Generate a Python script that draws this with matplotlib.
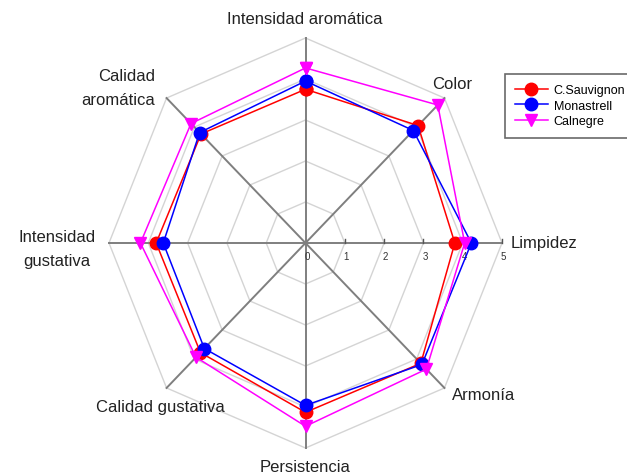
import numpy as np
import matplotlib.pyplot as plt

plt.rcParams['font.family'] = ['Liberation Sans', 'DejaVu Sans']

# axes, clockwise from the top
atributos = ["Intensidad aromática", "Color", "Limpidez", "Armonía",
             "Persistencia", "Calidad gustativa", "Intensidad\ngustativa",
             "Calidad\naromática"]
sauvignon = [3.75, 4.05, 3.8, 4.15, 4.13, 3.78, 3.8, 3.76]
monastrell = [3.95, 3.88, 4.22, 4.19, 3.96, 3.64, 3.62, 3.81]
calnegre = [4.27, 4.76, 4.05, 4.35, 4.47, 3.94, 4.2, 4.12]
escala = [0, 1, 2, 3, 4, 5]

ang = np.pi / 2 - np.arange(len(atributos)) * 2 * np.pi / len(atributos)

fig = plt.figure(figsize=(6.27, 4.77), dpi=100)
ax = fig.add_axes([0, 0, 1, 1])
ux, uy = 39.3, 41.0
cx, cy = 305.5, 477 - 244
ax.set_xlim(-cx / ux, (627 - cx) / ux)
ax.set_ylim(-cy / uy, (477 - cy) / uy)
ax.axis("off")

# octagon grid
a_cerr = np.append(ang, ang[0])
for r in escala[1:]:
    ax.plot(r * np.cos(a_cerr), r * np.sin(a_cerr), color="#d4d4d4", lw=1, zorder=1)

# spokes
for a in ang[:4]:
    ax.plot([-5 * np.cos(a), 5 * np.cos(a)], [-5 * np.sin(a), 5 * np.sin(a)],
            color="#7f7f7f", lw=1.4, zorder=2)

# scale on the Limpidez axis
for v in escala:
    if v > 0:
        ax.plot([v, v], [0, 0.1], color="#555555", lw=1, zorder=2)
    ax.text(v + 0.04, -0.2, str(v), fontsize=7, ha="center", va="top", color="#333333")

series = [("C.Sauvignon", sauvignon, "red", "o"),
          ("Monastrell", monastrell, "blue", "o"),
          ("Calnegre", calnegre, "magenta", "v")]
for i, (nombre, vals, col, mk) in enumerate(series):
    v = np.append(vals, vals[0])
    ax.plot(v * np.cos(a_cerr), v * np.sin(a_cerr), color=col, lw=1.1,
            marker=mk, markersize=9, label=nombre, zorder=3 + i)

# axis labels (pixel positions)
etiquetas = [(305, 20, "center"), (452, 85, "center"), (511, 244, "left"),
             (452, 396, "left"), (305, 468, "center"), (160, 408, "center"),
             (57, 250, "center"), (155, 89, "right")]
for (px, py, ha), t in zip(etiquetas, atributos):
    ax.text((px - cx) / ux, (477 - py - cy) / uy, t, fontsize=12, ha=ha,
            va="center", ma=ha, color="#222222", linespacing=1.75)

leg = ax.legend(loc="upper left", bbox_to_anchor=(505 / 627, 1 - 75 / 477),
                fontsize=9, frameon=True, fancybox=False, edgecolor="#444444",
                handlelength=2.6, borderpad=0.8, labelspacing=0.3,
                handletextpad=0.5, borderaxespad=0)
leg.get_frame().set_linewidth(1.2)

plt.savefig("out.png", dpi=100)
